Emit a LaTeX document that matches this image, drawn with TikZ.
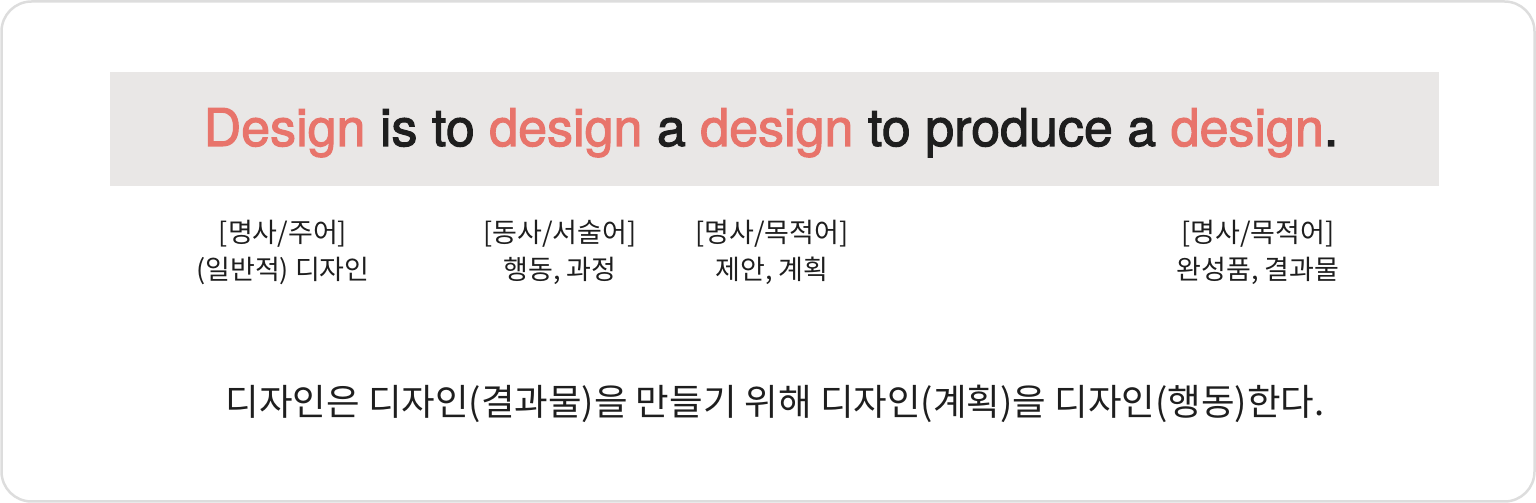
\documentclass[tikz,border=0pt]{standalone}
\usepackage{fontspec}
\setmainfont[FakeBold=2]{TeX Gyre Heros}
\newfontfamily\krfont{Noto Sans CJK KR}
\usetikzlibrary{positioning}
\definecolor{coral}{HTML}{E8746B}
\definecolor{band}{HTML}{E9E7E6}
\definecolor{frame}{HTML}{DDDDDD}
\definecolor{ink}{HTML}{1E1E1E}
\tikzset{role/.style = {align=center, inner sep=0,
                        font=\krfont\fontsize{27}{37}\selectfont, text=ink}}
\newcommand{\dz}[1]{\textcolor{coral}{#1}}

\begin{document}
\begin{tikzpicture}[x=1pt, y=1pt]
      \useasboundingbox (0, 0) rectangle (1536, 503);
      \draw [frame, line width=2.5, rounded corners=30] (1.5, 1.5) rectangle (1534.5, 501.5);
      \fill [band] (110, 317) rectangle (1439, 431);

      \node (motto) [anchor=base, text=ink, font=\fontsize{52}{60}\selectfont]
        at (771, 357) {\dz{Design} is to \dz{design} a \dz{design} to produce a \dz{design}.};

      \node (subject) [role] at (283, 251) {[명사/주어]\\(일반적) 디자인};
      \node (verb) [role] at (560, 251) {[동사/서술어]\\행동, 과정};
      \node (plan) [role] at (772, 251) {[명사/목적어]\\제안, 계획};
      \node (result) [role] at (1258, 251) {[명사/목적어]\\완성품, 결과물};

      \node (gloss) [font=\krfont\fontsize{36.5}{44}\selectfont, text=ink]
        at (775, 99) {디자인은 디자인(결과물)을 만들기 위해 디자인(계획)을 디자인(행동)한다.};
\end{tikzpicture}
\end{document}
